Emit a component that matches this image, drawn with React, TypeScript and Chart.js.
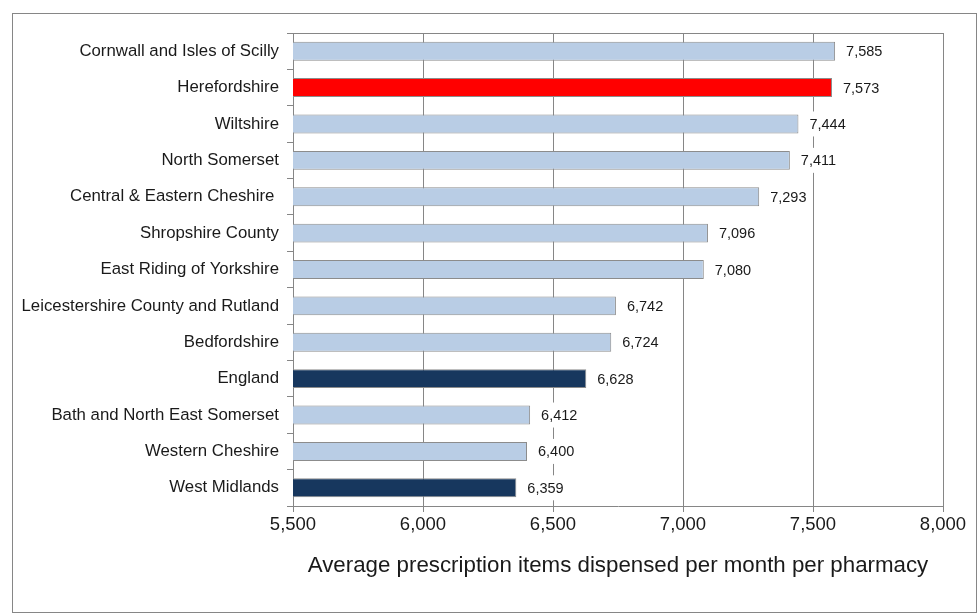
import React, { useEffect, useRef } from "react";
import { Chart, registerables } from "chart.js";

Chart.register(...registerables);

const categories = [
  "Cornwall and Isles of Scilly",
  "Herefordshire",
  "Wiltshire",
  "North Somerset",
  "Central & Eastern Cheshire ",
  "Shropshire County",
  "East Riding of Yorkshire",
  "Leicestershire County and Rutland",
  "Bedfordshire",
  "England",
  "Bath and North East Somerset",
  "Western Cheshire",
  "West Midlands",
];

const values = [7585, 7573, 7444, 7411, 7293, 7096, 7080, 6742, 6724, 6628, 6412, 6400, 6359];

const barColors = [
  "#B9CDE5",
  "#FF0000",
  "#B9CDE5",
  "#B9CDE5",
  "#B9CDE5",
  "#B9CDE5",
  "#B9CDE5",
  "#B9CDE5",
  "#B9CDE5",
  "#17375E",
  "#B9CDE5",
  "#B9CDE5",
  "#17375E",
];

const xMin = 5500;
const xMax = 8000;
const xStep = 500;
const axisTitle = "Average prescription items dispensed per month per pharmacy";

const FONT = "'Liberation Sans', Arial, sans-serif";
const GRID = "#868686";
const TEXT = "#1a1a1a";

const fmt = (v: number) => Number(v).toLocaleString("en-US");

const framePlugin = {
  id: "frame",
  beforeDraw(chart: any) {
    const ctx = chart.ctx;
    ctx.save();
    ctx.fillStyle = "#ffffff";
    ctx.fillRect(0, 0, chart.width, chart.height);
    ctx.strokeStyle = GRID;
    ctx.lineWidth = 1;
    ctx.strokeRect(12.5, 13.5, 964, 599);
    ctx.restore();
  },
  afterDraw(chart: any) {
    const ctx = chart.ctx;
    const a = chart.chartArea;
    ctx.save();
    ctx.strokeStyle = GRID;
    ctx.lineWidth = 1;
    ctx.beginPath();
    const y = Math.round(a.top) + 0.5;
    ctx.moveTo(a.left, y);
    ctx.lineTo(a.right, y);
    ctx.stroke();
    ctx.restore();
  },
};

const valueLabelPlugin = {
  id: "valueLabels",
  afterDatasetsDraw(chart: any) {
    const ctx = chart.ctx;
    const meta = chart.getDatasetMeta(0);
    ctx.save();
    ctx.font = `14.5px ${FONT}`;
    ctx.textAlign = "left";
    ctx.textBaseline = "middle";
    meta.data.forEach((bar: any, i: number) => {
      const txt = fmt(values[i]);
      const w = ctx.measureText(txt).width;
      const tx = bar.x + 11;
      ctx.fillStyle = "#ffffff";
      ctx.fillRect(tx - 6, bar.y - 12.5, w + 12, 25);
      ctx.fillStyle = TEXT;
      ctx.fillText(txt, tx, bar.y + 1);
    });
    ctx.restore();
  },
};

export default function App() {
  const ref = useRef<HTMLCanvasElement>(null);
  useEffect(() => {
    const chart = new Chart(ref.current as HTMLCanvasElement, {
      type: "bar",
      data: {
        labels: categories,
        datasets: [
          {
            data: values,
            backgroundColor: barColors,
            borderColor: "#8c8c8c",
            borderWidth: 1,
            borderSkipped: false,
            barPercentage: 0.52,
            categoryPercentage: 1,
          },
        ],
      },
      options: {
        indexAxis: "y",
        responsive: false,
        animation: false,
        layout: { padding: { top: 33, right: 37, left: 0, bottom: 0 } },
        plugins: {
          legend: { display: false },
          tooltip: { enabled: false },
        },
        scales: {
          x: {
            min: xMin,
            max: xMax,
            ticks: {
              stepSize: xStep,
              callback: (v: any) => fmt(v),
              font: { family: FONT, size: 18.5 },
              color: TEXT,
              padding: 2,
              maxRotation: 0,
            },
            grid: { color: GRID, tickLength: 6, lineWidth: 1 },
            border: { color: GRID },
            title: {
              display: true,
              text: axisTitle,
              font: { family: FONT, size: 22.3 },
              color: TEXT,
              padding: { top: 0, bottom: 37 },
            },
            afterFit: (s: any) => {
              s.height = 110;
            },
          },
          y: {
            ticks: {
              font: { family: FONT, size: 16.8 },
              color: TEXT,
              padding: 8,
            },
            grid: { drawOnChartArea: false, tickLength: 6, color: GRID, offset: true },
            border: { color: GRID },
            afterFit: (s: any) => {
              s.width = 293;
            },
          },
        },
      },
      plugins: [framePlugin, valueLabelPlugin],
    } as any);
    return () => chart.destroy();
  }, []);
  return (
    <div style={{ position: "absolute", left: 0, top: 0, width: 980, height: 616, background: "#fff" }}>
      <canvas ref={ref} width={980} height={616} style={{ display: "block", width: 980, height: 616 }} />
    </div>
  );
}
